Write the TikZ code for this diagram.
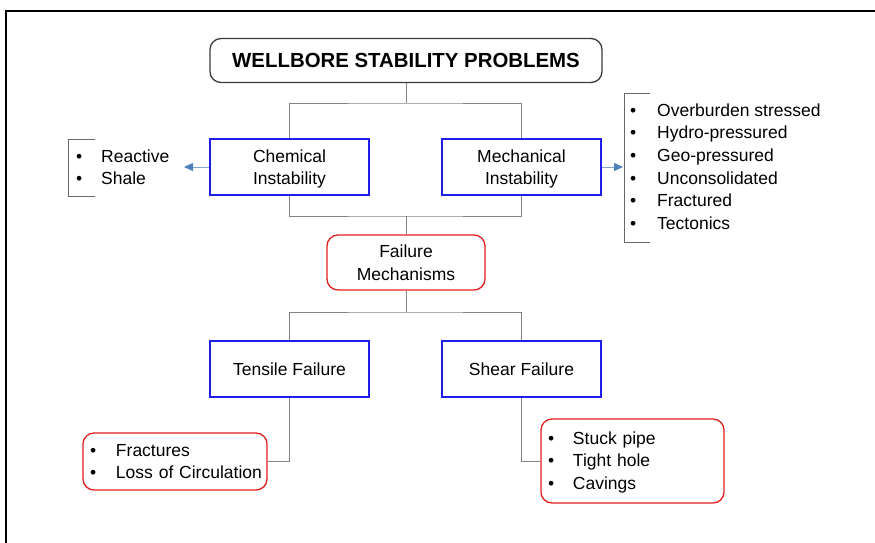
\documentclass[tikz,border=0pt]{standalone}
\usepackage{fontspec}
\setmainfont{Liberation Sans}
\usetikzlibrary{arrows.meta}
\definecolor{boxblue}{RGB}{30,30,235}
\definecolor{boxred}{RGB}{225,30,30}
\definecolor{conngray}{RGB}{130,130,130}
\definecolor{arrblue}{RGB}{79,129,189}
\definecolor{titleedge}{RGB}{60,60,60}
\newcommand\lbul[1][26pt]{\makebox[#1][l]{\textbullet}}
\newcommand\litem[2][26pt]{\mbox{\lbul[#1]#2}}
\newcommand\topfix[1]{\rule{0pt}{#1}}
\begin{document}
\begin{tikzpicture}[x=1pt,y=-1pt,
  txt/.style={font=\fontsize{17.5}{22.5}\selectfont},
  titlebox/.style={draw=titleedge, line width=1.3pt, rounded corners=11pt, minimum width=392pt, minimum height=44pt, inner sep=0pt, font=\fontsize{20.4}{24}\selectfont\bfseries},
  bluebox/.style={txt, draw=boxblue, line width=1.3pt, minimum width=159pt, minimum height=56pt, inner sep=0pt, align=center},
  redbox/.style={txt, draw=boxred, line width=1.3pt, rounded corners=11pt, minimum width=158pt, minimum height=55pt, inner sep=0pt, align=center},
  redlist/.style={txt, draw=boxred, line width=1.3pt, rounded corners=11pt, inner xsep=7pt, inner ysep=0pt, align=left},
  listtext/.style={txt, inner sep=0pt, align=left, anchor=west},
  conn/.style={draw=conngray, line width=0.8pt},
  arrowline/.style={draw=arrblue!70, line width=0.8pt, -{Triangle[length=9pt,width=8pt,fill=arrblue,color=arrblue]}},
  bracket/.style={draw=conngray!80!black, line width=0.8pt},
  frame/.style={draw=black, line width=2.4pt}
]
\useasboundingbox (0,0) rectangle (875,542);
\draw[frame] (6,545) -- (6,11) -- (880,11);

\node[titlebox] (title) at (406,60.5) {\raisebox{1pt}{WELLBORE STABILITY PROBLEMS}};
\node[bluebox] (chem) at (289.5,167) {\topfix{17pt}Chemical\\Instability};
\node[bluebox] (mech) at (521.5,167) {\topfix{17pt}Mechanical\\Instability};
\node[redbox] (fail) at (406,262.5) {Failure\\Mechanisms};
\node[bluebox] (tens) at (289.5,369) {Tensile Failure};
\node[bluebox] (shear) at (521.5,369) {Shear Failure};
\node[redlist, text width=170pt, minimum height=57pt] (frac) at (175,461.5)
  {\litem{Fractures}\\ \litem{Loss of Circulation}};
\node[redlist, text width=169pt, minimum height=84pt] (stuck) at (632.5,461)
  {\topfix{15pt}\litem[25pt]{Stuck pipe}\\ \litem[25pt]{Tight hole}\\ \litem[25pt]{Cavings}};

\node[listtext] (rlist) at (76,167) {\lbul[25pt]Reactive\\ \lbul[25pt]Shale};
\node[listtext, font=\fontsize{17.5}{22.6}\selectfont] (mlist) at (630,166.5)
  {\lbul[27pt]Overburden stressed\\ \lbul[27pt]Hydro-pressured\\ \lbul[27pt]Geo-pressured\\ \lbul[27pt]Unconsolidated\\ \lbul[27pt]Fractured\\ \lbul[27pt]Tectonics};

% brackets
\draw[bracket] (95,139) -- (68,139) -- (68,196) -- (95,196);
\draw[bracket] (650,93) -- (624,93) -- (624,242) -- (650,242);

% connectors
\coordinate (j1) at (406,103);
\coordinate (j2) at (406,216);
\coordinate (j3) at (406,312);
\draw[conn] (title.south) -- (j1);
\draw[conn] (chem.north) |- (j1) -| (mech.north);
\draw[conn] (chem.south) |- (j2) -| (mech.south);
\draw[conn] (j2) -- (fail.north);
\draw[conn] (fail.south) -- (j3);
\draw[conn] (tens.north) |- (j3) -| (shear.north);
\draw[conn] (tens.south) |- (frac.east);
\draw[conn] (shear.south) |- (stuck.west);

% arrows
\coordinate (rarrow) at (184,167);
\coordinate (marrow) at (623,167);
\draw[arrowline] (chem.west) -- (rarrow);
\draw[arrowline] (mech.east) -- (marrow);
\end{tikzpicture}
\end{document}
